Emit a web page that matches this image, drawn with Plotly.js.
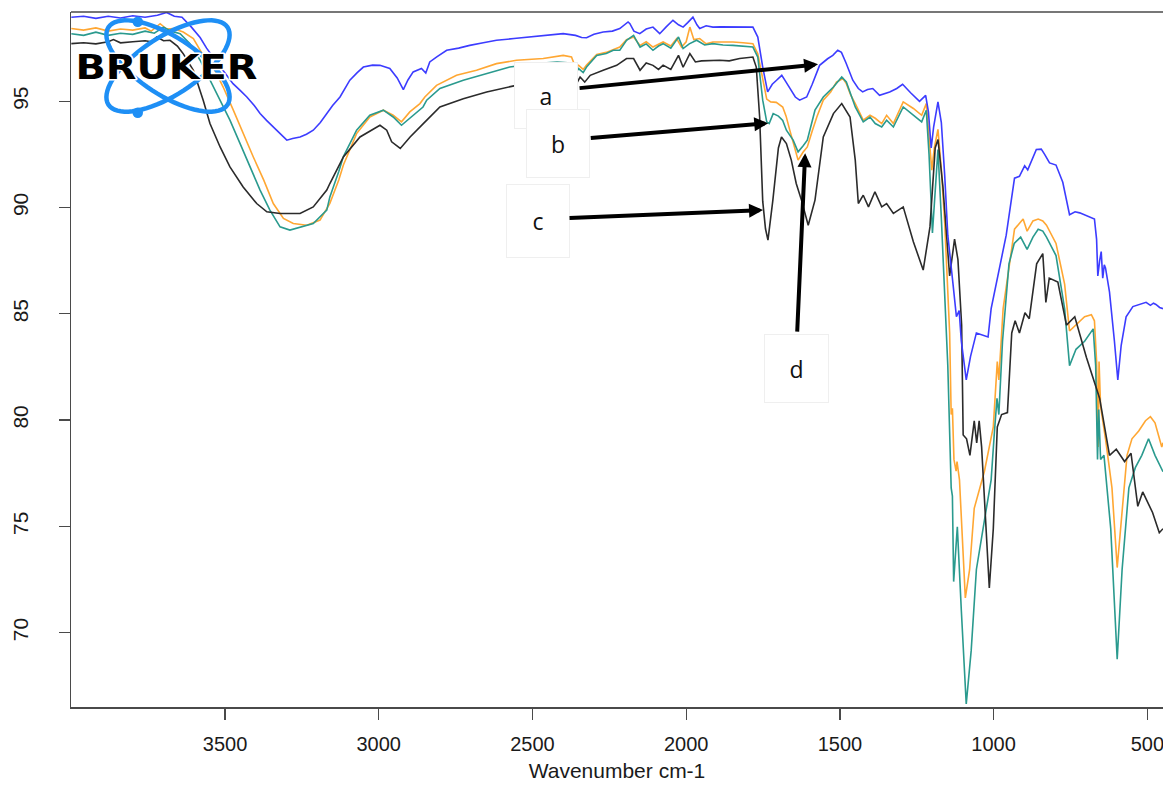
<!DOCTYPE html>
<html><head><meta charset="utf-8">
<script src="https://cdn.plot.ly/plotly-3.0.1.min.js"></script>
<style>html,body{margin:0;padding:0;background:#fff}#chart{width:1163px;height:787px}</style>
</head><body><div id="chart"></div>
<script>
const xTicks = [3500, 3000, 2500, 2000, 1500, 1000, 500];
const yTicks = [70, 75, 80, 85, 90, 95];
const xTitle = 'Wavenumber cm-1';
const boxLabels = ['a', 'b', 'c', 'd'];
const logoText = 'BRUKER';

// spectrum a (blue): [wavenumber, %T]
const specA = [[4000,98.95],[3960,99.0],[3920,98.9],[3880,99.0],[3840,98.92],[3800,99.02],[3760,98.95],[3720,99.05],[3690,99.18],[3665,99.0],[3640,98.95],[3610,98.5],[3581,98.0],[3560,97.5],[3539,97.08],[3505,96.4],[3474,95.83],[3450,95.5],[3429,95.2],[3405,94.8],[3386,94.42],[3365,94.1],[3343,93.79],[3320,93.45],[3299,93.17],[3280,93.25],[3256,93.32],[3235,93.45],[3213,93.64],[3190,94.0],[3169,94.42],[3150,94.8],[3126,95.2],[3094,95.99],[3070,96.35],[3050,96.61],[3020,96.7],[2996,96.69],[2964,96.54],[2940,96.1],[2920,95.55],[2905,96.0],[2888,96.38],[2861,96.54],[2847,96.33],[2834,96.85],[2810,97.1],[2779,97.4],[2740,97.5],[2704,97.63],[2660,97.75],[2617,97.87],[2560,97.95],[2508,98.02],[2450,98.1],[2400,98.18],[2360,98.1],[2340,98.0],[2324,97.99],[2300,98.15],[2270,98.26],[2240,98.3],[2216,98.42],[2200,98.6],[2189,98.73],[2183,98.65],[2170,98.3],[2151,98.18],[2130,98.4],[2108,98.49],[2095,98.3],[2086,98.18],[2065,98.5],[2043,98.81],[2025,98.6],[2010,98.49],[1995,98.7],[1978,98.96],[1965,98.6],[1956,98.42],[1935,98.55],[1913,98.49],[1890,98.5],[1858,98.49],[1820,98.5],[1783,98.49],[1767,98.02],[1751,96.61],[1735,95.44],[1720,95.8],[1706,95.99],[1689,96.22],[1675,95.9],[1663,95.6],[1645,95.2],[1631,95.05],[1608,95.2],[1590,95.8],[1566,96.69],[1540,97.0],[1523,97.16],[1507,97.4],[1495,97.3],[1480,96.8],[1458,95.99],[1440,95.6],[1426,95.44],[1410,95.55],[1393,95.6],[1371,95.28],[1355,95.35],[1338,95.44],[1315,95.6],[1296,95.8],[1270,95.4],[1241,95.0],[1221,95.28],[1212,94.5],[1203,92.8],[1195,93.8],[1181,94.97],[1170,94.0],[1159,91.5],[1149,88.7],[1132,86.4],[1121,84.86],[1112,85.15],[1105,83.71],[1089,81.89],[1075,83.0],[1056,84.1],[1035,84.0],[1018,83.91],[1008,85.24],[986,86.78],[959,88.7],[932,91.38],[916,91.47],[899,91.96],[889,91.77],[861,92.73],[845,92.75],[834,92.5],[818,92.1],[797,92.0],[775,91.19],[753,89.66],[735,89.8],[720,89.75],[695,89.6],[672,89.46],[665,88.5],[661,86.78],[655,87.5],[650,87.93],[645,86.68],[640,87.3],[636,87.16],[623,86.02],[607,83.71],[596,81.89],[585,83.52],[569,84.86],[547,85.34],[525,85.45],[504,85.54],[490,85.4],[480,85.5],[472,85.44],[460,85.3],[449,85.24]];

// spectrum b (teal)
const specB = [[4000,98.18],[3960,98.1],[3920,98.25],[3880,98.1],[3840,98.2],[3800,98.15],[3760,98.3],[3730,98.2],[3700,98.49],[3675,98.3],[3646,98.18],[3614,97.71],[3581,96.93],[3549,95.99],[3516,95.05],[3484,94.11],[3451,93.01],[3419,91.91],[3386,90.82],[3354,89.88],[3321,89.09],[3289,88.94],[3256,89.06],[3213,89.25],[3169,89.88],[3159,90.5],[3130,91.7],[3115,92.4],[3072,93.64],[3029,94.34],[2985,94.58],[2953,94.26],[2926,93.87],[2888,94.34],[2856,94.73],[2844,95.05],[2801,95.6],[2725,95.99],[2649,96.3],[2574,96.61],[2487,96.77],[2420,96.85],[2375,96.8],[2360,96.3],[2350,96.54],[2335,96.35],[2324,96.61],[2291,97.16],[2260,97.25],[2237,97.4],[2216,97.4],[2194,97.87],[2171,98.1],[2150,97.55],[2130,97.7],[2108,97.4],[2090,97.6],[2075,97.71],[2050,97.5],[2025,98.02],[2010,97.48],[1990,97.7],[1966,97.87],[1940,97.65],[1913,97.71],[1880,97.65],[1848,97.63],[1815,97.6],[1783,97.55],[1767,97.08],[1751,95.05],[1738,94.03],[1730,93.95],[1717,94.42],[1700,94.3],[1686,94.1],[1674,93.64],[1652,93.17],[1636,92.62],[1620,92.9],[1606,93.17],[1581,94.58],[1554,95.2],[1521,95.67],[1494,96.14],[1479,95.91],[1450,94.73],[1424,94.03],[1402,94.26],[1385,93.95],[1364,93.79],[1348,94.11],[1326,93.79],[1294,94.73],[1261,94.34],[1234,94.03],[1219,94.58],[1210,92.5],[1199,88.8],[1190,91.0],[1181,92.73],[1170,89.5],[1155,84.5],[1149,82.56],[1138,76.81],[1134,76.42],[1130,72.4],[1124,73.5],[1118,74.98],[1105,71.05],[1089,66.64],[1073,69.14],[1056,72.97],[1030,75.27],[1008,77.19],[998,79.3],[989,81.02],[983,80.26],[971,83.71],[950,87.35],[933,88.31],[912,88.61],[891,88.03],[872,88.61],[855,88.98],[840,88.89],[828,88.61],[797,87.74],[769,85.24],[753,82.56],[732,83.33],[704,83.71],[676,84.29],[668,82.56],[662,78.15],[658,80.5],[652,78.15],[641,78.34],[619,74.89],[598,68.75],[582,72.97],[560,76.81],[539,77.76],[518,78.34],[496,79.12],[475,78.34],[449,77.57]];

// spectrum c (black)
const specC = [[4000,97.71],[3960,97.75],[3920,97.7],[3880,97.8],[3863,97.9],[3840,97.75],[3800,97.8],[3760,97.85],[3740,97.8],[3722,98.02],[3700,97.85],[3679,97.87],[3655,97.6],[3636,97.24],[3603,96.46],[3571,95.05],[3549,93.95],[3516,92.85],[3484,91.91],[3441,90.97],[3397,90.19],[3364,89.8],[3321,89.72],[3256,89.72],[3213,90.03],[3169,90.82],[3159,91.13],[3115,92.38],[3061,93.32],[2996,93.87],[2974,93.64],[2958,93.09],[2930,92.78],[2898,93.32],[2855,93.95],[2801,94.73],[2725,95.12],[2649,95.44],[2568,95.7],[2500,95.9],[2420,96.0],[2370,96.1],[2358,95.8],[2345,96.14],[2330,95.9],[2312,96.22],[2270,96.46],[2226,96.69],[2194,97.01],[2171,97.01],[2150,96.46],[2130,96.8],[2108,96.69],[2090,96.5],[2075,96.7],[2050,96.5],[2025,97.16],[2010,96.6],[1988,97.24],[1970,96.85],[1950,96.9],[1891,96.93],[1860,96.9],[1826,97.01],[1783,97.08],[1772,96.61],[1761,94.26],[1751,90.3],[1742,89.0],[1734,88.47],[1718,90.35],[1700,92.8],[1690,93.32],[1674,93.01],[1658,92.23],[1642,91.13],[1625,90.35],[1603,89.17],[1581,90.35],[1554,93.32],[1521,94.42],[1494,94.89],[1467,94.26],[1450,92.23],[1440,90.19],[1424,90.58],[1407,90.03],[1386,90.74],[1364,90.03],[1348,90.19],[1326,89.72],[1294,90.03],[1261,88.39],[1229,87.06],[1207,89.09],[1190,92.8],[1181,93.2],[1165,91.0],[1143,86.78],[1127,88.51],[1116,87.55],[1104,84.47],[1099,79.3],[1088,79.12],[1077,78.34],[1063,79.96],[1055,78.93],[1047,79.96],[1039,78.74],[1028,75.85],[1014,72.1],[1001,74.89],[988,79.68],[974,80.26],[955,80.35],[941,84.1],[930,84.67],[916,84.1],[898,85.05],[884,84.77],[860,87.35],[840,87.83],[830,85.54],[819,86.68],[791,86.49],[763,84.47],[736,84.86],[698,82.94],[655,81.02],[623,78.34],[601,78.63],[574,78.05],[553,78.44],[531,75.94],[515,76.62],[483,75.65],[461,74.7],[449,74.89]];

// spectrum d (orange)
const specD = [[4000,98.42],[3960,98.35],[3920,98.45],[3880,98.3],[3840,98.4],[3800,98.35],[3760,98.45],[3740,98.3],[3711,98.65],[3690,98.4],[3668,98.42],[3636,98.26],[3603,97.95],[3571,97.16],[3538,96.61],[3506,95.67],[3473,94.58],[3441,93.48],[3408,92.38],[3374,91.29],[3343,90.19],[3310,89.49],[3278,89.25],[3234,89.17],[3191,89.41],[3159,90.2],[3130,91.3],[3115,92.0],[3072,93.48],[3029,94.26],[2985,94.58],[2953,94.34],[2926,94.03],[2899,94.5],[2866,94.89],[2850,95.2],[2812,95.75],[2747,96.22],[2682,96.46],[2617,96.77],[2552,96.93],[2465,97.01],[2400,97.16],[2373,97.08],[2360,96.6],[2350,96.69],[2335,96.5],[2324,96.7],[2291,97.2],[2260,97.3],[2237,97.45],[2216,97.55],[2194,97.9],[2171,98.02],[2150,97.63],[2130,97.8],[2108,97.55],[2090,97.7],[2075,97.79],[2050,97.6],[2031,97.95],[2015,97.55],[2000,97.8],[1988,98.49],[1975,97.9],[1956,97.95],[1935,97.7],[1913,97.79],[1880,97.8],[1848,97.79],[1815,97.75],[1783,97.71],[1767,97.24],[1751,95.99],[1738,95.1],[1725,94.97],[1707,94.95],[1686,94.73],[1675,94.3],[1663,93.64],[1650,93.0],[1636,92.23],[1620,92.6],[1606,92.85],[1590,93.6],[1575,94.26],[1554,95.05],[1530,95.44],[1511,95.9],[1490,96.07],[1479,95.83],[1465,95.3],[1450,94.89],[1424,94.11],[1402,94.34],[1385,94.2],[1364,93.95],[1348,94.34],[1326,93.95],[1294,94.97],[1261,94.66],[1234,94.34],[1219,94.89],[1210,93.5],[1201,91.76],[1193,92.8],[1181,93.68],[1170,91.8],[1159,89.27],[1143,84.1],[1138,80.26],[1134,80.55],[1129,78.15],[1122,77.6],[1119,78.05],[1111,77.19],[1101,73.93],[1092,71.63],[1078,72.97],[1063,75.85],[1030,77.58],[1001,79.68],[988,82.75],[983,81.89],[969,85.24],[947,87.55],[932,88.98],[904,89.46],[891,88.89],[872,89.37],[855,89.46],[840,89.37],[828,89.17],[797,88.31],[769,86.4],[753,84.19],[732,84.47],[704,84.86],[682,84.96],[672,84.67],[665,82.75],[660,78.73],[657,82.75],[652,80.64],[636,79.12],[615,76.81],[598,73.06],[582,75.85],[566,78.34],[550,79.12],[528,79.49],[506,79.97],[490,80.16],[475,79.87],[453,78.73],[449,78.93]];

// arrow tips (data coords) for labels a-d
const arrowTipWn = [1571, 1733, 1750, 1613];
const arrowTipT = [96.74, 93.97, 89.88, 92.56];

const W = 1163, H = 787, M = {l: 71, r: 0, t: 12, b: 80};
const pw = W - M.l - M.r, ph = H - M.t - M.b;
const pX = px => (px - M.l) / pw;
const pY = py => (H - M.b - py) / ph;

const fam = 'Liberation Sans Narrow, Liberation Sans, Arial, sans-serif';
const axisColor = '#4a4a4a';

const colors = {a: '#3c3cff', b: '#2a9a8e', c: '#2b2b2b', d: '#ffa733'};
const mk = (spec, name, color) => ({
  type: 'scatter', mode: 'lines', name: name,
  x: spec.map(p => p[0]), y: spec.map(p => p[1]),
  line: {color: color, width: 1.6}, showlegend: false, hoverinfo: 'skip'
});
const data = [
  mk(specD, 'd', colors.d),
  mk(specB, 'b', colors.b),
  mk(specC, 'c', colors.c),
  mk(specA, 'a', colors.a)
];

// logo shapes (decoration)
function ellipsePath(cx, cy, a, b, deg) {
  const th = deg * Math.PI / 180, n = 72;
  let s = '';
  for (let i = 0; i <= n; i++) {
    const t = 2 * Math.PI * i / n;
    const ex = a * Math.cos(t), ey = b * Math.sin(t);
    const x = cx + ex * Math.cos(th) - ey * Math.sin(th);
    const y = cy + ex * Math.sin(th) + ey * Math.cos(th);
    s += (i === 0 ? 'M' : 'L') + pX(x).toFixed(5) + ',' + pY(y).toFixed(5);
  }
  return s + 'Z';
}
const logoBlue = '#1e8ff5';
const shapes = [
  {type: 'line', xref: 'paper', yref: 'paper', x0: 0, x1: 1, y0: 1, y1: 1, line: {color: axisColor, width: 1.5}},
  {type: 'path', xref: 'paper', yref: 'paper', path: ellipsePath(168, 66, 71, 29, 33), line: {color: logoBlue, width: 4.5}, layer: 'above'},
  {type: 'path', xref: 'paper', yref: 'paper', path: ellipsePath(168, 66, 71, 29, -33), line: {color: logoBlue, width: 4.5}, layer: 'above'},
  {type: 'circle', xref: 'paper', yref: 'paper', x0: pX(132.5), x1: pX(143), y0: pY(16.5), y1: pY(27), fillcolor: logoBlue, line: {width: 0}, layer: 'above'},
  {type: 'circle', xref: 'paper', yref: 'paper', x0: pX(132.5), x1: pX(143), y0: pY(107.5), y1: pY(118), fillcolor: logoBlue, line: {width: 0}, layer: 'above'}
];

const boxFont = {family: 'Open Sans, Liberation Sans, sans-serif', size: 23, color: '#111'};
const boxes = [[546, 95.5, 62, 65], [557.5, 143.5, 62, 67], [537.5, 221, 62, 72], [796.5, 368.5, 63, 67]];
const tails = [[578, 88], [589, 138], [568, 218], [797, 333]];
const tipsPx = [[818, 64], [768, 123], [763, 210], [805, 153]];

const annotations = [];
boxes.forEach((b, i) => {
  annotations.push({
    xref: 'paper', yref: 'paper', x: pX(b[0]), y: pY(b[1]), xanchor: 'center', yanchor: 'middle',
    text: boxLabels[i], showarrow: false, width: b[2], height: b[3], borderpad: 0,
    bgcolor: '#ffffff', bordercolor: '#efefef', borderwidth: 1, font: boxFont
  });
});
arrowTipWn.forEach((wn, i) => {
  annotations.push({
    xref: 'x', yref: 'y', x: wn, y: arrowTipT[i], text: '', showarrow: true,
    axref: 'pixel', ayref: 'pixel',
    ax: tails[i][0] - tipsPx[i][0], ay: tails[i][1] - tipsPx[i][1],
    arrowhead: 2, arrowsize: 0.7, arrowwidth: 4, arrowcolor: '#000', standoff: 0
  });
});
annotations.push({
  xref: 'paper', yref: 'paper', x: pX(166), y: pY(67.5), xanchor: 'center', yanchor: 'middle',
  text: logoText, showarrow: false,
  font: {family: 'DejaVu Sans, Liberation Sans, sans-serif', size: 33, color: '#000', weight: 'bold'}
});

const layout = {
  width: W, height: H, margin: M,
  paper_bgcolor: '#fff', plot_bgcolor: '#fff',
  showlegend: false,
  xaxis: {
    range: [4001, 449], autorange: false, tickvals: xTicks, ticktext: xTicks.map(String),
    ticks: 'outside', ticklen: 11, tickwidth: 1.3, tickcolor: axisColor,
    showline: true, linecolor: axisColor, linewidth: 1.5, mirror: false,
    showgrid: false, zeroline: false, ticklabelstandoff: 7, ticklabeloverflow: 'allow',
    tickfont: {family: fam, size: 20, color: '#1a1a1a'},
    title: {text: xTitle, font: {family: fam, size: 21, color: '#1a1a1a'}, standoff: 10}
  },
  yaxis: {
    range: [66.5, 99.2], autorange: false, tickvals: yTicks, ticktext: yTicks.map(String),
    tickangle: -90, ticks: 'outside', ticklen: 11, tickwidth: 1.3, tickcolor: axisColor,
    showline: true, linecolor: axisColor, linewidth: 1.5, mirror: false,
    showgrid: false, zeroline: false, ticklabelstandoff: 22, ticklabeloverflow: 'allow',
    tickfont: {family: fam, size: 21, color: '#1a1a1a'}
  },
  shapes: shapes,
  annotations: annotations
};

Plotly.newPlot('chart', data, layout, {displayModeBar: false, staticPlot: true}).then(gd => {
  gd.querySelectorAll('.annotation-text').forEach(t => {
    if (t.textContent === logoText) {
      const bb = t.getBBox();
      const cx = bb.x + bb.width / 2;
      const k = 182 / bb.width;
      t.setAttribute('transform', 'translate(' + cx + ',0) scale(' + k + ',1) translate(' + (-cx) + ',0)');
      t.style.stroke = '#ffffff';
      t.style.strokeWidth = '3px';
      t.style.paintOrder = 'stroke';
      t.style.strokeLinejoin = 'round';
    }
  });
});
</script>
</body></html>
